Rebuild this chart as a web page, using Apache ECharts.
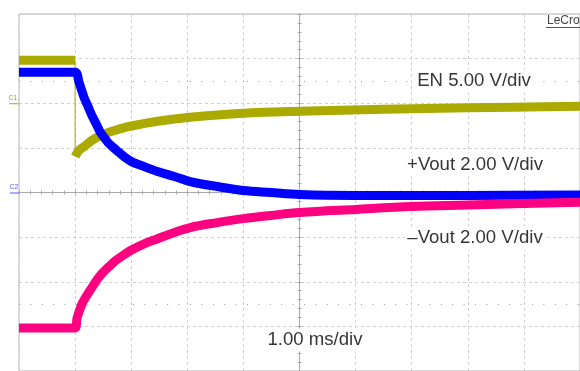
<!DOCTYPE html>
<html>
<head>
<meta charset="utf-8">
<script src="https://cdn.jsdelivr.net/npm/echarts@6/dist/echarts.min.js"></script>
<style>
  html, body { margin: 0; padding: 0; background: #fff; }
  #scope { width: 580px; height: 371px; }
</style>
</head>
<body>
<div id="scope"></div>
<script>
// Captured waveforms: time in ms after the trigger, amplitude in volts.
const enTimeBefore = [-1, -0.5, 0];
const enBefore = [4.83, 4.83, 4.83];
const enTimeAfter = [0, 0.07, 0.19, 0.30, 0.46, 0.60, 0.77, 0.98, 1.47, 2.05, 3.0, 4.0, 5.5, 7.0, 9.0];
const enAfter = [-5.96, -5.28, -4.72, -4.16, -3.60, -3.26, -2.92, -2.58, -2.02, -1.57, -1.12, -0.90, -0.67, -0.51, -0.34];

const posTime = [-1, -0.5, 0, 0.07, 0.158, 0.228, 0.298, 0.38, 0.45, 0.53, 0.60, 0.74, 0.89, 1.03, 1.18, 1.47, 1.77, 2.05, 2.53, 3.0, 3.49, 4.0, 5.0, 7.0, 9.0];
const posVout = [5.39, 5.39, 5.39, 4.94, 4.27, 3.87, 3.46, 3.06, 2.70, 2.43, 2.20, 1.89, 1.57, 1.35, 1.21, 0.94, 0.72, 0.49, 0.27, 0.09, 0.0, -0.09, -0.13, -0.13, -0.11];

const negTime = [-1, -0.5, 0, 0.035, 0.123, 0.21, 0.298, 0.386, 0.474, 0.60, 0.719, 0.85, 0.982, 1.22, 1.47, 1.76, 2.05, 2.53, 3.0, 3.49, 4.0, 5.0, 6.0, 7.0, 8.0, 9.0];
const negVout = [-6.07, -6.07, -6.07, -5.62, -4.99, -4.61, -4.27, -3.93, -3.64, -3.33, -3.06, -2.83, -2.61, -2.31, -2.07, -1.80, -1.57, -1.35, -1.17, -1.03, -0.90, -0.76, -0.63, -0.56, -0.49, -0.44];

// Vertical settings per channel: volts per division and zero position in divisions.
const enScale = 5, enOffset = 2;
const posScale = 2, posOffset = 0;
const negScale = 2, negOffset = 0;

// Horizontal settings: ms per division, trigger position in divisions from centre.
const timebase = 1;
const triggerDiv = -4;

const channelLabels = ['EN 5.00 V/div', '+Vout 2.00 V/div', '\u2013Vout 2.00 V/div'];
const timeLabel = '1.00 ms/div';
const brand = 'LeCroy';

const COLOR_EN = '#aaaa00';
const COLOR_POS = '#0000ff';
const COLOR_NEG = '#ff0080';
const GRID_C = '#a9a9a9';
const FONT = '"Liberation Sans", Arial, sans-serif';

function toScreen(times, volts, scale, offset) {
  return times.map((t, i) => [t / timebase + triggerDiv, volts[i] / scale + offset]);
}

const enPre = toScreen(enTimeBefore, enBefore, enScale, enOffset);
const enPost = toScreen(enTimeAfter, enAfter, enScale, enOffset);
const enEdge = [enPre[enPre.length - 1], enPost[0]];
const posData = toScreen(posTime, posVout, posScale, posOffset);
const negData = toScreen(negTime, negVout, negScale, negOffset);

const chart = echarts.init(document.getElementById('scope'), null, { renderer: 'canvas' });

function centreAxis(dim, position, withGrid) {
  const isX = dim === 'x';
  return {
    type: 'value',
    min: isX ? -5 : -4,
    max: isX ? 5 : 4,
    interval: 1,
    position: position,
    axisLine: { show: true, onZero: true, lineStyle: { color: GRID_C, width: 1 } },
    axisTick: { show: true, inside: false, length: 2, lineStyle: { color: GRID_C } },
    minorTick: { show: true, splitNumber: 5, length: 2, lineStyle: { color: GRID_C } },
    axisLabel: { show: false },
    splitLine: { show: withGrid, lineStyle: { color: '#cfcfcf', type: [3, 3], width: 1 } },
    minorSplitLine: { show: false }
  };
}

const trace = (name, data, color, width, z, smooth) => ({
  name: name,
  type: 'line',
  data: data,
  showSymbol: false,
  symbol: 'none',
  smooth: smooth,
  z: z,
  lineStyle: { color: color, width: width, cap: 'butt', join: 'round' },
  emphasis: { disabled: true }
});

const enPreSeries = trace('EN', enPre, COLOR_EN, 9, 3, false);
enPreSeries.markLine = {
  silent: true,
  symbol: 'none',
  label: { show: false },
  lineStyle: { color: '#9a9a9a', type: [1, 10.4], width: 1 },
  data: [{ yAxis: 2.5 }, { yAxis: -2.5 }],
  z: 1
};

chart.setOption({
  animation: false,
  backgroundColor: '#ffffff',
  grid: {
    show: true,
    left: 19, top: 14, width: 570, height: 357,
    borderColor: '#b4b4b4', borderWidth: 1,
    backgroundColor: 'transparent'
  },
  xAxis: [centreAxis('x', 'bottom', true), centreAxis('x', 'top', false)],
  yAxis: [centreAxis('y', 'left', true), centreAxis('y', 'right', false)],
  series: [
    enPreSeries,
    trace('EN edge', enEdge, COLOR_EN, 1, 3, false),
    trace('EN', enPost, COLOR_EN, 9, 3, 0.35),
    trace('+Vout', posData, COLOR_POS, 9, 4, 0.35),
    trace('-Vout', negData, COLOR_NEG, 9, 4, 0.35)
  ]
});

// Channel zero markers, readout labels and brand mark.
const px = (x, y) => chart.convertToPixel({ xAxisIndex: 0, yAxisIndex: 0 }, [x, y]);
const c1 = px(-5, enOffset);
const c2 = px(-5, posOffset);

const readout = (text, x, y) => ({
  type: 'text', z: 100,
  style: {
    text: text, x: x, y: y, align: 'center', verticalAlign: 'middle',
    font: '18.6px ' + FONT, fill: '#363636',
    backgroundColor: '#ffffff', padding: [2, 3]
  }
});

chart.setOption({
  graphic: [
    readout(channelLabels[0], 474, 81),
    readout(channelLabels[1], 475, 164.5),
    readout(channelLabels[2], 475, 238),
    readout(timeLabel, 315, 340),
    { type: 'text', z: 100, style: { text: 'C1', x: 13, y: c1[1] - 2, align: 'center', verticalAlign: 'bottom', font: '7px ' + FONT, fill: COLOR_EN } },
    { type: 'line', z: 100, shape: { x1: 9, y1: c1[1] + 0.5, x2: c1[0], y2: c1[1] + 0.5 }, style: { stroke: COLOR_EN, lineWidth: 1 } },
    { type: 'text', z: 100, style: { text: 'C2', x: 14, y: c2[1] - 2, align: 'center', verticalAlign: 'bottom', font: '7px ' + FONT, fill: '#5a5aff' } },
    { type: 'line', z: 100, shape: { x1: 10, y1: c2[1] + 0.5, x2: c2[0], y2: c2[1] + 0.5 }, style: { stroke: '#5a5aff', lineWidth: 1 } },
    { type: 'text', z: 100, style: { text: brand, x: 547, y: 21, align: 'left', verticalAlign: 'middle', font: '12px ' + FONT, fill: '#444444' } },
    { type: 'line', z: 100, shape: { x1: 546, y1: 27.5, x2: 580, y2: 27.5 }, style: { stroke: '#555555', lineWidth: 1 } }
  ]
});
</script>
</body>
</html>
